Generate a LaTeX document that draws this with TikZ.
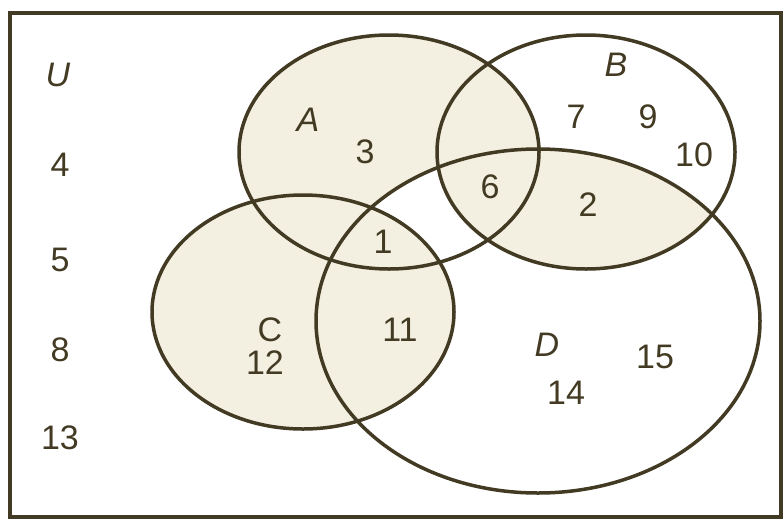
\documentclass[tikz,border=0pt]{standalone}
\usepackage{fontspec}
\setmainfont{Liberation Sans}
\definecolor{ink}{RGB}{66,58,34}
\definecolor{tanfill}{RGB}{243,240,225}
\newcommand{\ellA}{(389,152) ellipse [x radius=150pt, y radius=117pt]}
\newcommand{\ellB}{(586,152) ellipse [x radius=149pt, y radius=117pt]}
\newcommand{\ellC}{(303,312) ellipse [x radius=151pt, y radius=117pt]}
\newcommand{\ellD}{(538,321) ellipse [x radius=222pt, y radius=172pt]}
\tikzset{lbl/.style={text=ink, inner sep=0pt, font=\fontsize{34}{38}\selectfont}}
\begin{document}
\begin{tikzpicture}[x=1pt, y=-1pt, line width=3.5pt]
\useasboundingbox (0,0) rectangle (784,520);
\fill[white] (0,0) rectangle (784,520);
\fill[tanfill] \ellA;
\fill[white] \ellD;
\begin{scope}
\clip \ellB;
\fill[tanfill] \ellA;
\fill[tanfill] \ellD;
\end{scope}
\fill[tanfill] \ellC;
\draw[ink] \ellA;
\draw[ink] \ellB;
\draw[ink] \ellC;
\draw[ink] \ellD;
\draw[ink, line width=4pt] (10,13) rectangle (781,517);
\node[lbl] (U) at (58,75) {\textit{U}};
\node[lbl] (u4) at (60,165) {4};
\node[lbl] (u5) at (60,260) {5};
\node[lbl] (u8) at (60,350) {8};
\node[lbl] (u13) at (60,438) {13};
\node[lbl] (A) at (308,120) {\textit{A}};
\node[lbl] (a3) at (365,152) {3};
\node[lbl] (B) at (616,65) {\textit{B}};
\node[lbl] (b7) at (576,117) {7};
\node[lbl] (b9) at (648,117) {9};
\node[lbl] (b10) at (694,155) {10};
\node[lbl] (abd6) at (490,187) {6};
\node[lbl] (bd2) at (588,205) {2};
\node[lbl] (acd1) at (383,242) {1};
\node[lbl] (C) at (270,330) {C};
\node[lbl] (c12) at (265,363) {12};
\node[lbl] (cd11) at (400,330) {11};
\node[lbl] (D) at (547,345) {\textit{D}};
\node[lbl] (d15) at (655,357) {15};
\node[lbl] (d14) at (566,393) {14};
\end{tikzpicture}
\end{document}
